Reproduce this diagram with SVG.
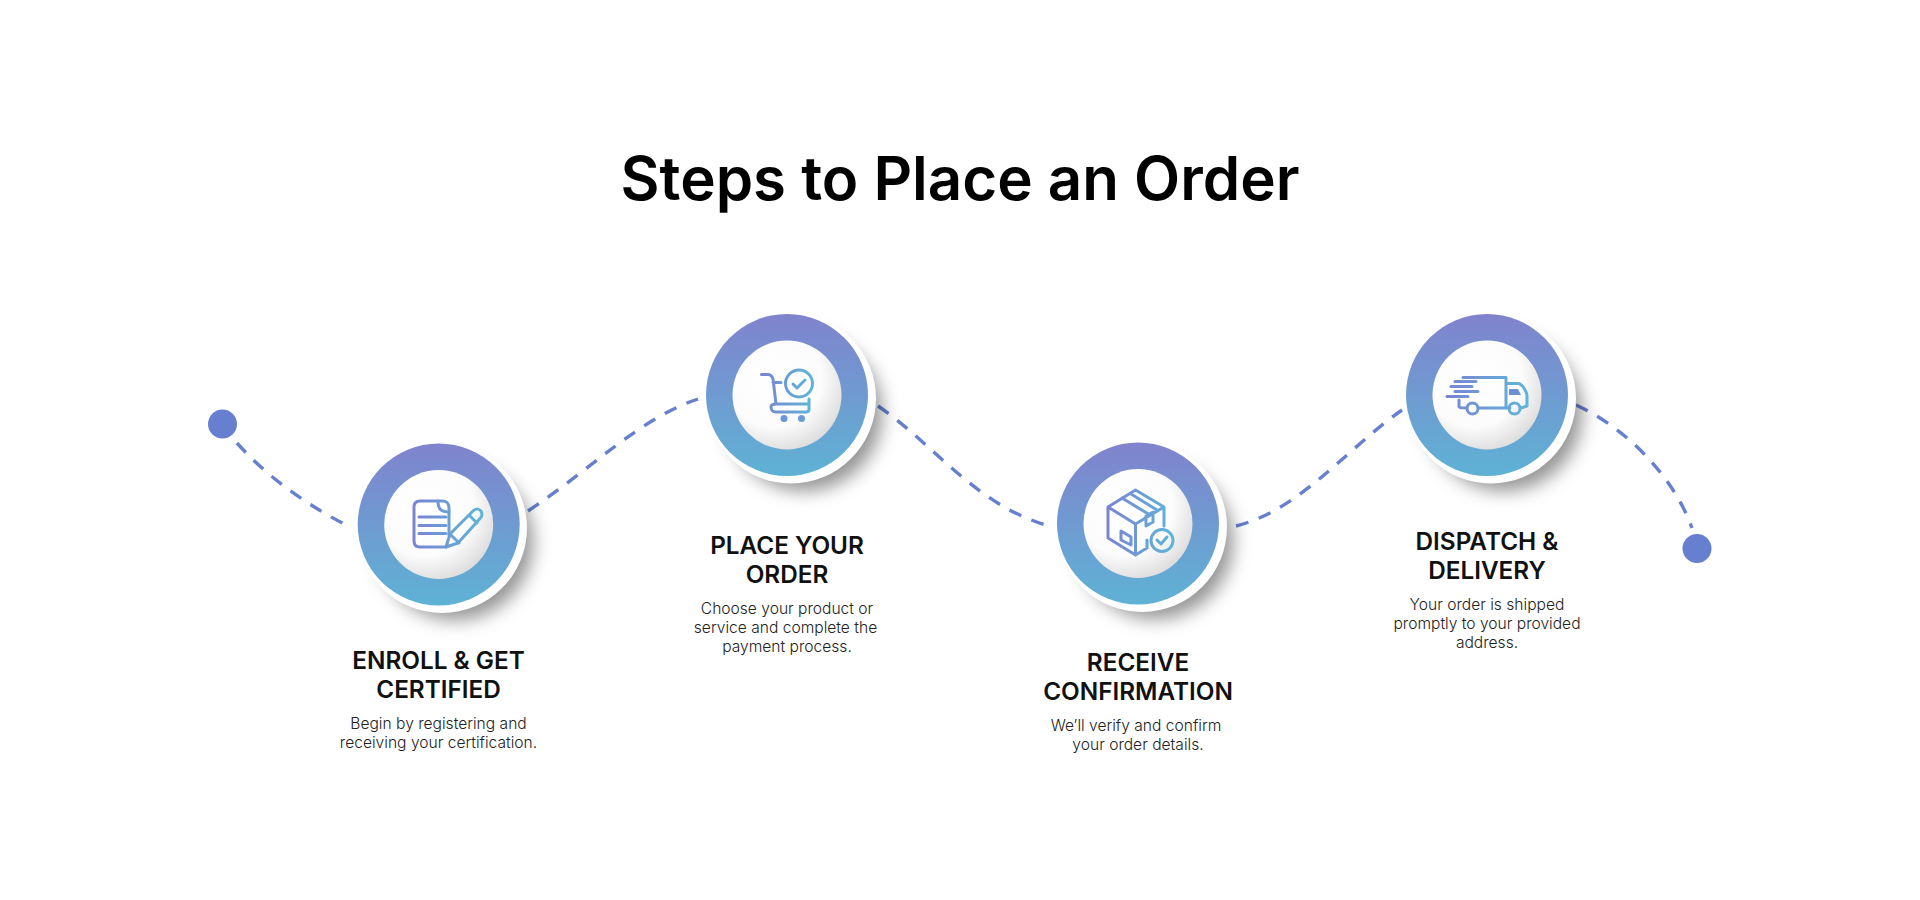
<svg xmlns="http://www.w3.org/2000/svg" xmlns:xlink="http://www.w3.org/1999/xlink" width="1920" height="900" viewBox="0 0 1920 900">
<style>
text{font-family:Inter,"Liberation Sans",sans-serif;text-anchor:middle}
.title{font-size:60px;font-weight:600;fill:#000}
.head{font-size:24.300px;font-weight:600;fill:#111}
.body{font-size:15.600px;font-weight:300;fill:#222}
.dash{fill:none;stroke:#6680cf;stroke-width:3.400;stroke-dasharray:13 11}
.dot{fill:#6680cf}
.ic{fill:none;stroke-width:3;stroke-linecap:round;stroke-linejoin:round}
.shadow{fill:#000;fill-opacity:.42;filter:url(#blur)}
.halo{fill:#fff}
.ring{fill:url(#ringG)}
.core{fill:url(#coreG)}
</style>
<defs>
<linearGradient id="ringG" x1="0" y1="0" x2="0" y2="1"><stop offset="0" stop-color="#8083cd"/><stop offset="1" stop-color="#5eb2d5"/></linearGradient>
<radialGradient id="coreG" cx=".38" cy=".35" r=".8"><stop offset="0" stop-color="#fff"/><stop offset=".55" stop-color="#fcfcfc"/><stop offset="1" stop-color="#cfcfcf"/></radialGradient>
<filter id="blur" x="-30%" y="-30%" width="160%" height="160%"><feGaussianBlur stdDeviation="9"/></filter>
<linearGradient id="g1" gradientUnits="userSpaceOnUse" x1="414" y1="0" x2="483" y2="0"><stop offset="0" stop-color="#7a84d2"/><stop offset="1" stop-color="#5eb5d8"/></linearGradient>
<linearGradient id="g2" gradientUnits="userSpaceOnUse" x1="761" y1="0" x2="812" y2="0"><stop offset="0" stop-color="#7a84d2"/><stop offset="1" stop-color="#5eb5d8"/></linearGradient>
<linearGradient id="g3" gradientUnits="userSpaceOnUse" x1="1107" y1="0" x2="1173" y2="0"><stop offset="0" stop-color="#7a84d2"/><stop offset="1" stop-color="#5eb5d8"/></linearGradient>
<linearGradient id="g4" gradientUnits="userSpaceOnUse" x1="1447" y1="0" x2="1527" y2="0"><stop offset="0" stop-color="#7a84d2"/><stop offset="1" stop-color="#5eb5d8"/></linearGradient>
</defs>
<rect width="1920" height="900" fill="#fff"/>
<text class="title" x="960" y="199.500">Steps to Place an Order</text>
<g id="connectors">
<path class="dash" d="M237 443C268 478 310 507 350 527"/>
<path class="dash" d="M528 511C590 470 640 418 698 399"/>
<path class="dash" d="M878 406C935 445 975 505 1049 526"/>
<path class="dash" d="M1236 526C1300 510 1345 450 1402 410"/>
<path class="dash" d="M1576 405C1630 430 1675 480 1692 528"/>
</g>
<g id="start-dot"><circle class="dot" cx="222.500" cy="424" r="14.500"/></g>
<g id="end-dot"><circle class="dot" cx="1697" cy="548.500" r="14.500"/></g>
<g id="step-1">
<circle class="shadow" cx="455" cy="542" r="78"/><circle class="halo" cx="442" cy="528" r="85"/>
<circle class="ring" cx="438.700" cy="524.500" r="81"/><circle class="core" cx="438.700" cy="524.500" r="54.500"/>
<g class="ic" stroke="url(#g1)">
<path d="M449 535V508C449 503 447 501 442 501H420C416 501 414 503 414 507V541C414 545 416 547 420 547H446"/>
<path d="M438 501C438 510 442 512 449 512" /><path d="M419 517H446M419 525.500H446M419 533.500H446"/>
<path d="M446 547L450 534L473 511C476 508 479 509 481 511C482.500 514 482.500 516 480.500 518L458 543ZM450 534L459 543M469 515L477 523"/>
</g>
<text class="head" x="438.500" y="669">ENROLL &amp; GET</text><text class="head" x="438.500" y="698">CERTIFIED</text>
<text class="body" x="438.500" y="729">Begin by registering and</text><text class="body" x="438.500" y="748">receiving your certification.</text>
</g>
<g id="step-2">
<circle class="shadow" cx="804" cy="413" r="78"/><circle class="halo" cx="791" cy="398.500" r="85"/>
<circle class="ring" cx="787" cy="395" r="81"/><circle class="core" cx="787" cy="395" r="54.500"/>
<g class="ic" stroke="url(#g2)">
<circle cx="799" cy="383.500" r="13.500"/><path d="M793 384L797 388L805 380"/>
<path d="M761.500 374.500H768C771 374.500 772 376 773 379L776 404M773 382.500H781M809 399V409C809 411 808 412 806 412H776C772 412 771 409 771 407C771 405 773 404 776 404H809"/>
</g>
<circle cx="784" cy="418.500" r="3.500" fill="#6b96d4"/><circle cx="801.500" cy="418.500" r="3.500" fill="#6a9cd5"/>
<text class="head" x="787" y="554">PLACE YOUR</text><text class="head" x="787" y="583">ORDER</text>
<text class="body" x="787" y="614">Choose your product or</text><text class="body" x="785.500" y="633">service and complete the</text><text class="body" x="787" y="651.500">payment process.</text>
</g>
<g id="step-3">
<circle class="shadow" cx="1155" cy="541" r="78"/><circle class="halo" cx="1142" cy="527" r="85"/>
<circle class="ring" cx="1138" cy="523.500" r="81"/><circle class="core" cx="1138" cy="523.500" r="54.500"/>
<g class="ic" stroke="url(#g3)">
<path d="M1135.500 490L1164 507L1135.500 524L1108 507ZM1108 507V538L1135.500 555V524M1164 507V526M1135.500 555L1147 548V540M1122 498L1150 515M1131 494L1157 510M1146 516L1153 512V522L1146 526ZM1121 531L1131 537V545L1121 540Z"/>
<circle cx="1162" cy="540.500" r="11"/><path d="M1157 540L1161 544L1167 537"/>
</g>
<text class="head" x="1138" y="671">RECEIVE</text><text class="head" x="1138" y="700">CONFIRMATION</text>
<text class="body" x="1136" y="731">We’ll verify and confirm</text><text class="body" x="1138" y="750">your order details.</text>
</g>
<g id="step-4">
<circle class="shadow" cx="1504" cy="413" r="78"/><circle class="halo" cx="1491" cy="398.500" r="85"/>
<circle class="ring" cx="1487" cy="395" r="81"/><circle class="core" cx="1487" cy="395" r="54.500"/>
<g class="ic" stroke="url(#g4)">
<path d="M1463 377.500H1506V408H1479M1459 400V407C1459 407.500 1460 408 1467 408M1506 383.500H1518C1522 383.500 1527 392 1527 396V406L1521 408M1506 408H1510"/>
<path d="M1455 381.500H1476M1451 386.500H1472M1455 391.500H1478M1447 396.500H1468"/>
<circle cx="1472.500" cy="408.500" r="5.500"/><circle cx="1514.500" cy="408.500" r="5.500"/>
</g>
<path d="M1509 389H1518L1521 395H1509Z" fill="#6e8fd3"/>
<text class="head" x="1487" y="550">DISPATCH &amp;</text><text class="head" x="1487" y="579">DELIVERY</text>
<text class="body" x="1487" y="609.500">Your order is shipped</text><text class="body" x="1487" y="628.500">promptly to your provided</text><text class="body" x="1487" y="647.500">address.</text>
</g>
</svg>
